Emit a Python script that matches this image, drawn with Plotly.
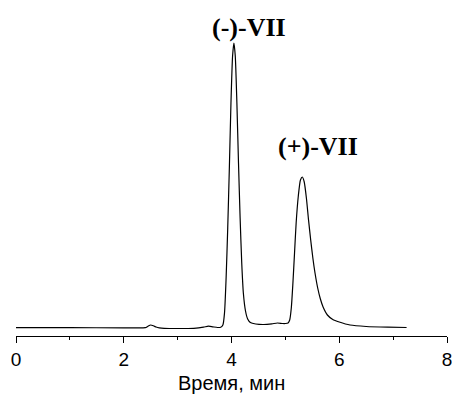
import plotly.graph_objects as go

# Retention time (min) and detector signal (arbitrary units)
time_min = [0.00, 1.00, 2.00, 2.40, 2.45, 2.50, 2.55, 2.60, 2.66, 2.75, 3.00, 3.30, 3.48, 3.57, 3.65, 3.74,
            3.80, 3.84, 3.87, 3.90, 3.93, 3.96, 3.99, 4.02, 4.045, 4.07, 4.10, 4.13, 4.16, 4.19, 4.22,
            4.26, 4.30, 4.35, 4.45, 4.60, 4.75, 4.85, 4.95, 5.00, 5.05, 5.08, 5.11, 5.14, 5.17, 5.20,
            5.24, 5.28, 5.315, 5.35, 5.39, 5.43, 5.47, 5.51, 5.55, 5.60, 5.65, 5.70, 5.78, 5.88, 6.00,
            6.20, 6.50, 6.90, 7.25]
signal = [0.3, 0.3, 0.2, 0.3, 1.8, 3.0, 2.2, 1.0, 0.2, -0.3, -0.5, -0.3, 0.8, 1.8, 1.2, 0.5,
          0.8, 3, 15, 50, 100, 160, 225, 272, 285, 272, 225, 165, 110, 65, 35,
          17, 9, 5.5, 4, 3.5, 4.2, 5, 4.5, 4.5, 5, 8, 20, 45, 75, 105,
          132, 148, 151, 146, 130, 108, 88, 70, 55, 40, 29, 21, 13, 8.5, 6,
          3, 1.5, 0.8, 0.5]

tick_vals = [0, 2, 4, 6, 8]
tick_text = ["0", "2", "4", "6", "8"]
peak_labels = ["(-)-VII", "(+)-VII"]
x_title = "Время, мин"

fig = go.Figure()
fig.add_trace(go.Scatter(
    x=time_min, y=signal, mode="lines",
    line=dict(color="black", width=1.2, shape="spline", smoothing=0.6),
    hoverinfo="skip", showlegend=False,
))

fig.add_annotation(x=4.334, y=301, xref="x", yref="y", text="<b>" + peak_labels[0] + "</b>",
                   showarrow=False, font=dict(family="Liberation Serif", size=26, color="black"))
fig.add_annotation(x=5.606, y=182, xref="x", yref="y", text="<b>" + peak_labels[1] + "</b>",
                   showarrow=False, font=dict(family="Liberation Serif", size=26, color="black"))
# x-axis title, placed as an annotation below the tick labels
fig.add_annotation(x=0.5, y=0, xref="paper", yref="paper", yanchor="middle", yshift=-47,
                   text=x_title, showarrow=False,
                   font=dict(family="Liberation Sans", size=20, color="black"))

fig.update_layout(
    width=452, height=394,
    margin=dict(l=16, r=5, t=10, b=58, autoexpand=False),
    paper_bgcolor="white", plot_bgcolor="white",
    font=dict(family="Liberation Sans", color="black"),
    hovermode=False,
    xaxis=dict(
        range=[0, 8], tickvals=tick_vals, ticktext=tick_text,
        automargin=False, ticklabeloverflow="allow",
        showline=True, linecolor="black", linewidth=1,
        ticks="outside", ticklen=6, tickwidth=1, tickcolor="black",
        minor=dict(dtick=1, ticks="outside", ticklen=3, tickwidth=1, tickcolor="black"),
        showgrid=False, zeroline=False,
        tickfont=dict(size=19, color="black"),
    ),
    yaxis=dict(range=[-8, 318], visible=False, showgrid=False, zeroline=False),
)

# remove the default page margin so the figure fills the window exactly
fig.write_html("out.html",
               config={"displayModeBar": False, "staticPlot": True},
               post_script="document.body.style.margin='0';document.body.style.overflow='hidden';")
